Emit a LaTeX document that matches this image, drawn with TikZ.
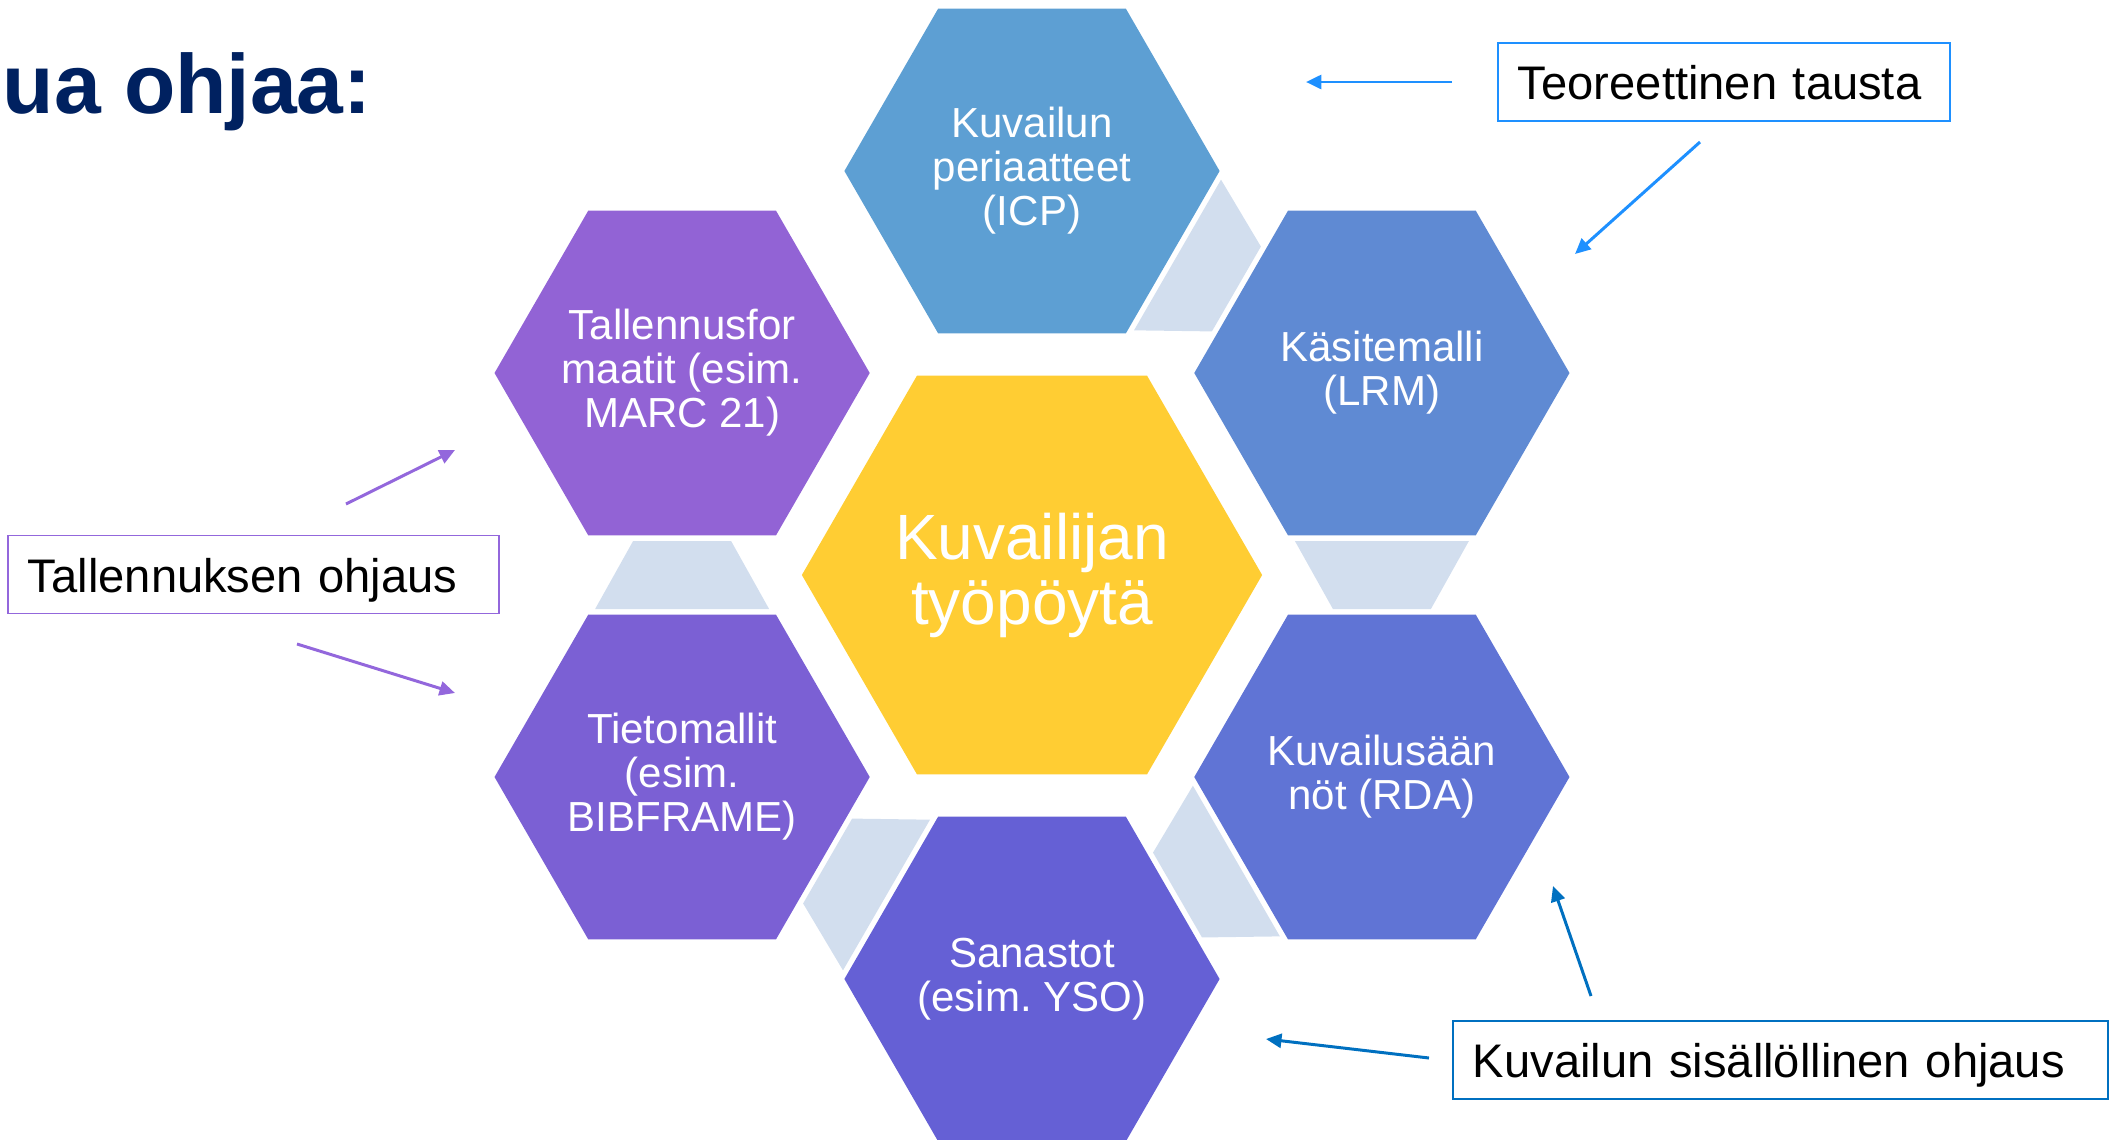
\documentclass[tikz,border=0pt]{standalone}
\usepackage{fontspec}
\setmainfont{Liberation Sans}
\usetikzlibrary{shapes.geometric,calc,arrows.meta}
\definecolor{titlenavy}{RGB}{0,33,96}
\definecolor{hubfill}{RGB}{255,205,51}
\definecolor{hexicp}{RGB}{93,159,211}
\definecolor{hexlrm}{RGB}{95,138,211}
\definecolor{hexrda}{RGB}{96,116,213}
\definecolor{hexyso}{RGB}{101,96,213}
\definecolor{hexbib}{RGB}{123,96,212}
\definecolor{hexmarc}{RGB}{146,99,213}
\definecolor{linkgray}{RGB}{210,222,238}
\definecolor{teoblue}{RGB}{30,144,255}
\definecolor{sisblue}{RGB}{0,112,192}
\definecolor{talpurple}{RGB}{147,103,220}
\frenchspacing

\begin{document}
\begin{tikzpicture}[x=0.01cm,y=-0.01cm,
    hexbox/.style={regular polygon, regular polygon sides=6, inner sep=-12pt, outer sep=0pt, text=white, align=center},
    outerhex/.style={hexbox, minimum size=3.75cm, font=\fontsize{11.95pt}{12.5pt}\selectfont},
    linkpiece/.style={fill=linkgray},
    tagbox/.style={draw, line width=0.5pt, inner xsep=0.2cm, inner ysep=0pt, minimum height=0.78cm, text height=10pt, text depth=0pt, align=left, font=\fontsize{13.4pt}{15pt}\selectfont},
    pointer/.style={-{Triangle[length=4.4pt,width=4pt]}, line width=0.85pt}]
  \useasboundingbox (0,0) rectangle (2118,1139);
  \clip (0,0) rectangle (2118,1139);
  \def\ringdist{404}
  \def\linkdist{349.9}

  \node[anchor=base west, inner sep=0pt, text=titlenavy, font=\fontsize{23.9pt}{28pt}\selectfont\bfseries] (title) at (2,113) {ua ohjaa:};

  % keskimmainen kuusikulmio
  \node[hexbox, minimum size=4.6cm, fill=hubfill, font=\fontsize{18.2pt}{18.5pt}\selectfont] (hub) at (1032,575) {Kuvailijan\\työpöytä};

  \foreach \nm/\ang/\col/\txt in {icp/-90/hexicp/{Kuvailun\\periaatteet\\(ICP)},
      lrm/-30/hexlrm/{Käsitemalli\\(LRM)},
      rda/30/hexrda/{Kuvailusään\\nöt (RDA)},
      yso/90/hexyso/{Sanastot\\(esim. YSO)},
      bib/150/hexbib/{Tietomallit\\(esim.\\BIBFRAME)},
      marc/210/hexmarc/{Tallennusfor\\maatit (esim.\\MARC 21)}} {
    \node[outerhex, fill=\col] (\nm) at ($(hub)+(\ang:\ringdist)$) {\txt};
  }

  % harmaat valipalat
  \foreach \ang in {-90,-30,30,90,150} {
    \begin{scope}[shift={($(hub)+(\ang+30:\linkdist)$)}, rotate={-(\ang)-120}]
      \fill[linkpiece] (-34,-87) -- (34,-49) -- (34,49) -- (-34,87) -- cycle;
    \end{scope}
  }

  \node[tagbox, draw=teoblue, text width=4.12cm] (teo) at (1724,82) {Teoreettinen tausta};
  \node[tagbox, draw=talpurple, text width=4.51cm] (tal) at (253.5,574.5) {Tallennuksen ohjaus};
  \node[tagbox, draw=sisblue, text width=6.15cm] (sis) at (1780.5,1060) {Kuvailun sisällöllinen ohjaus};

  \coordinate (teo-l0) at (1452,82);   \coordinate (teo-l1) at (1306,82);
  \coordinate (teo-d0) at (1700,142);  \coordinate (teo-d1) at (1575,254);
  \coordinate (tal-u0) at (346,504);   \coordinate (tal-u1) at (455,450);
  \coordinate (tal-d0) at (297,644);   \coordinate (tal-d1) at (455,693);
  \coordinate (sis-l0) at (1429,1058); \coordinate (sis-l1) at (1266,1039);
  \coordinate (sis-u0) at (1591,996);  \coordinate (sis-u1) at (1553,886);

  \foreach \a/\b/\col in {teo-l0/teo-l1/teoblue, teo-d0/teo-d1/teoblue,
      tal-u0/tal-u1/talpurple, tal-d0/tal-d1/talpurple,
      sis-l0/sis-l1/sisblue, sis-u0/sis-u1/sisblue} {
    \draw[pointer, \col] (\a) -- (\b);
  }
\end{tikzpicture}
\end{document}
